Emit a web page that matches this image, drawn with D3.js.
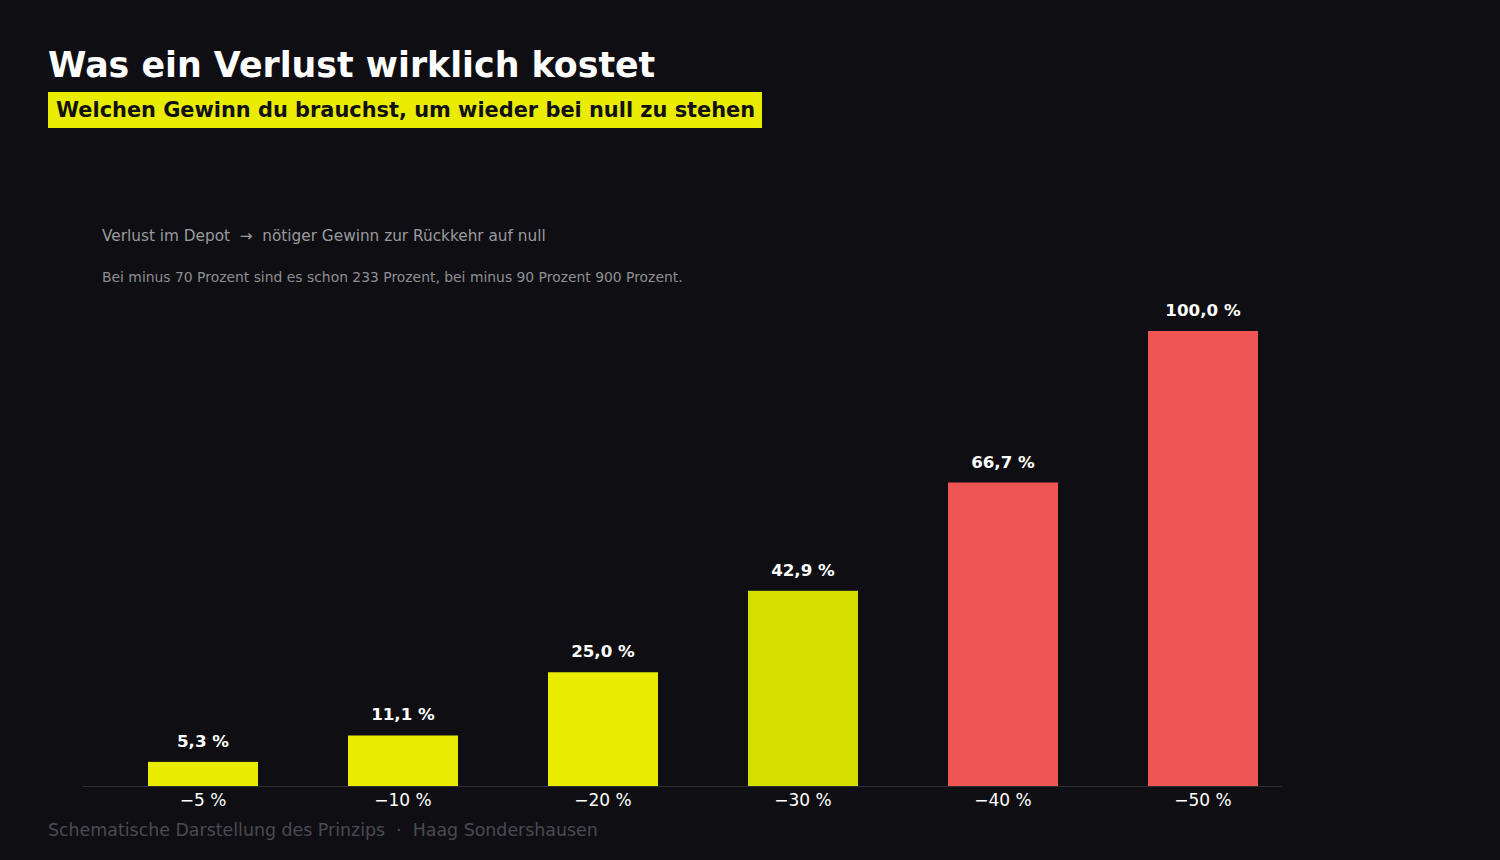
<!DOCTYPE html>
<html><head><meta charset="utf-8">
<script src="https://cdn.jsdelivr.net/npm/d3@7"></script>
<style>
html,body{margin:0;padding:0;background:#0f0f13;}
svg{display:block;font-family:"DejaVu Sans",sans-serif;}
text{white-space:pre;}
</style></head>
<body>
<svg id="chart" width="1500" height="860"></svg>
<script>
const categories = ["−5 %", "−10 %", "−20 %", "−30 %", "−40 %", "−50 %"];
const values = [5.3, 11.1, 25.0, 42.9, 66.7, 100.0];
const barColors = ["#e9ec00", "#e9ec00", "#e9ec00", "#d4df00", "#ef5553", "#ef5553"];
const yDomain = [0, 100];

const svg = d3.select("#chart");
svg.append("rect").attr("width", 1500).attr("height", 860).attr("fill", "#0f0f13");

svg.append("text").attr("x", 48).attr("y", 77).attr("fill", "#ffffff")
  .attr("font-size", 34.8).attr("font-weight", "bold").text("Was ein Verlust wirklich kostet");

const sub = svg.append("g");
sub.append("rect").attr("x", 48).attr("y", 92).attr("width", 714).attr("height", 36).attr("fill", "#e9ec00");
sub.append("text").attr("x", 56).attr("y", 117).attr("fill", "#111111")
  .attr("font-size", 20.9).attr("font-weight", "bold").text("Welchen Gewinn du brauchst, um wieder bei null zu stehen");

svg.append("text").attr("x", 102).attr("y", 241).attr("fill", "#9a9a9e").attr("font-size", 15.3)
  .text("Verlust im Depot  →  nötiger Gewinn zur Rückkehr auf null");
svg.append("text").attr("x", 102).attr("y", 282).attr("fill", "#8e8e92").attr("font-size", 13.9)
  .text("Bei minus 70 Prozent sind es schon 233 Prozent, bei minus 90 Prozent 900 Prozent.");

const x = d3.scaleBand().domain(categories).range([103, 1303]).paddingInner(0.45).paddingOuter(0.225);
const y = d3.scaleLinear().domain(yDomain).range([786, 331]);

const g = svg.append("g");
g.selectAll("rect.bar").data(values).join("rect").attr("class", "bar")
  .attr("x", (d, i) => x(categories[i]))
  .attr("width", x.bandwidth())
  .attr("y", d => y(d))
  .attr("height", d => y(0) - y(d))
  .attr("fill", (d, i) => barColors[i]);

g.selectAll("text.val").data(values).join("text").attr("class", "val")
  .attr("x", (d, i) => x(categories[i]) + x.bandwidth() / 2)
  .attr("y", d => y(d) - 15)
  .attr("text-anchor", "middle").attr("fill", "#ffffff")
  .attr("font-size", 16.7).attr("font-weight", "bold")
  .text(d => d3.format(".1f")(d).replace(".", ",") + " %");

svg.append("line").attr("x1", 83).attr("x2", 1282).attr("y1", 786.5).attr("y2", 786.5)
  .attr("stroke", "#2e2e33").attr("stroke-width", 1);

const axis = svg.append("g").attr("transform", "translate(0,786)")
  .call(d3.axisBottom(x).tickSize(0).tickPadding(8));
axis.select(".domain").remove();
axis.selectAll("text").attr("fill", "#ffffff").attr("font-size", 17)
  .attr("font-family", "DejaVu Sans, sans-serif");

svg.append("text").attr("x", 48).attr("y", 836).attr("fill", "#4a4a50").attr("font-size", 17.4)
  .text("Schematische Darstellung des Prinzips  ·  Haag Sondershausen");
</script>
</body></html>
